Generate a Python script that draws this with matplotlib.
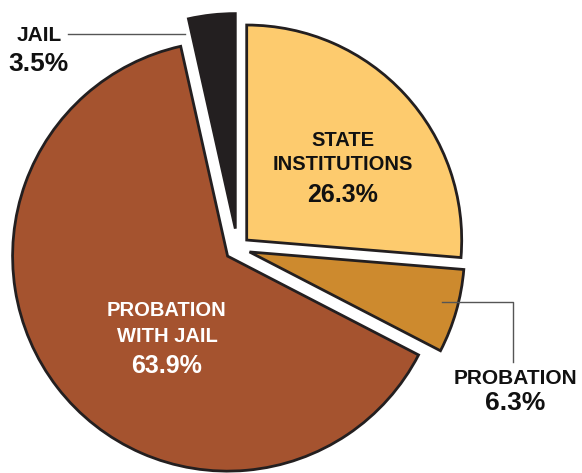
import matplotlib
matplotlib.use("Agg")
import matplotlib.pyplot as plt

plt.rcParams['font.family'] = ['Liberation Sans', 'DejaVu Sans']

# Data
labels = ['STATE\nINSTITUTIONS', 'PROBATION', 'PROBATION\nWITH JAIL', 'JAIL']
shares = [26.3, 6.3, 63.9, 3.5]
colors = ['#FDCB6E', '#CD8A2E', '#A5532F', '#231F20']

W, H = 582, 473
fig = plt.figure(figsize=(W / 100, H / 100), dpi=100)
ax = fig.add_axes([0, 0, 1, 1])

cx, cy, r = 237.5, H - 248.5, 215
# explode offsets are in data units here (pixels), not fractions of radius
explode = [12.5, 12.5, 12.5, 20]

ax.pie(shares, colors=colors, explode=explode, startangle=90, counterclock=False,
       radius=r, center=(cx, cy),
       wedgeprops=dict(edgecolor='#231F20', linewidth=2, joinstyle='miter'))

ax.set_xlim(0, W)
ax.set_ylim(0, H)
ax.set_aspect('equal')
ax.axis('off')

def py(y):
    return H - y

# Inside labels
ax.text(343, py(141), 'STATE', ha='center', va='center', fontsize=14.5, fontweight='bold', color='#111111')
ax.text(343, py(164), 'INSTITUTIONS', ha='center', va='center', fontsize=14.5, fontweight='bold', color='#111111')
ax.text(343, py(195), f'{shares[0]}%', ha='center', va='center', fontsize=18, fontweight='bold', color='#111111')

ax.text(167, py(311), 'PROBATION', ha='center', va='center', fontsize=14.5, fontweight='bold', color='white')
ax.text(167, py(337), 'WITH JAIL', ha='center', va='center', fontsize=14.5, fontweight='bold', color='white')
ax.text(167, py(366), f'{shares[2]}%', ha='center', va='center', fontsize=18, fontweight='bold', color='white')

# Outside labels
ax.text(39, py(36), 'JAIL', ha='center', va='center', fontsize=15, fontweight='bold', color='#111111')
ax.text(38, py(64), f'{shares[3]}%', ha='center', va='center', fontsize=19, fontweight='bold', color='#111111')
ax.plot([68, 185], [py(34), py(34)], color='#555555', lw=1)

ax.text(515, py(378), 'PROBATION', ha='center', va='center', fontsize=15, fontweight='bold', color='#111111')
ax.text(515, py(403), f'{shares[1]}%', ha='center', va='center', fontsize=19, fontweight='bold', color='#111111')
ax.plot([442, 513, 513], [py(302), py(302), py(362)], color='#555555', lw=1)

fig.savefig('out.png', dpi=100)
